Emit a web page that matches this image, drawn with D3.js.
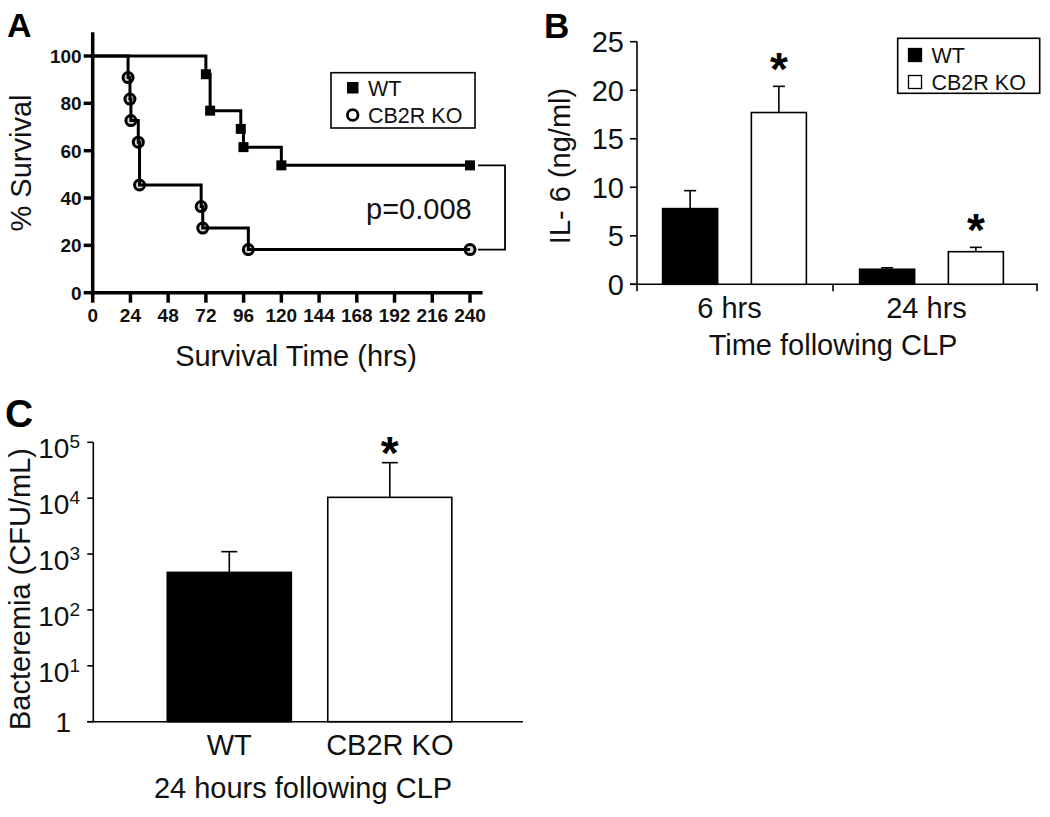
<!DOCTYPE html>
<html><head><meta charset="utf-8">
<script src="https://cdn.jsdelivr.net/npm/d3@7"></script>
<style>
html,body{margin:0;padding:0;background:#fff;}
svg{display:block;font-family:"Liberation Sans",Arial,Helvetica,sans-serif;}
</style></head>
<body>
<svg id="chart" width="1050" height="817"></svg>
<script>
// ---------- Panel A data (Kaplan-Meier survival) ----------
const survTicksX = [0,24,48,72,96,120,144,168,192,216,240];
const survTicksY = [0,20,40,60,80,100];
const wtTimes = [0,72,74.7,94.2,95.9,120,240];
const wtSurv  = [100,92.3,76.9,69.2,61.5,53.8,53.8];
const koTimes = [0,22.5,23.7,24.3,29,29.8,69,70,99,240];
const koSurv  = [100,90.9,81.8,72.7,63.6,45.5,36.4,27.3,18.2,18.2];
const seriesNames = ["WT","CB2R KO"];
const pText = "p=0.008";

// ---------- Panel B data (IL-6) ----------
const il6Groups = ["6 hrs","24 hrs"];
const il6Ticks = [0,5,10,15,20,25];
const il6WT = [7.8,1.55];
const il6WTerr = [1.85,0.15];
const il6KO = [17.7,3.36];
const il6KOerr = [2.7,0.45];
const il6Sig = [true,true];

// ---------- Panel C data (Bacteremia) ----------
const bactCats = ["WT","CB2R KO"];
const bactVals = [470,10350];
const bactErrTop = [1104,43200];
const bactTicks = [1,10,100,1000,10000,100000];
const bactSig = [false,true];

const svg = d3.select("#chart");
const FONT = 29;

function panelLabel(txt,x,y,size){
  svg.append("text").attr("x",x).attr("y",y).attr("font-size",size)
    .attr("font-weight","bold").attr("fill","#000").text(txt);
}

// ================= PANEL A =================
(function(){
  const g = svg.append("g");
  const x = d3.scaleLinear().domain([0,240]).range([92.7,470]);
  const y = d3.scaleLinear().domain([0,100]).range([292.7,56]);
  const sw = 3;
  const asw = 3.5;
  g.append("line").attr("x1",x(0)).attr("x2",x(0)).attr("y1",y(0)+asw/2).attr("y2",y(110))
    .attr("stroke","#000").attr("stroke-width",asw);
  g.append("line").attr("x1",x(0)).attr("x2",x(248)).attr("y1",y(0)).attr("y2",y(0))
    .attr("stroke","#000").attr("stroke-width",asw);
  g.selectAll(".ty").data(survTicksY).join("line")
    .attr("x1",x(0)-9).attr("x2",x(0)).attr("y1",d=>y(d)).attr("y2",d=>y(d))
    .attr("stroke","#000").attr("stroke-width",asw);
  g.selectAll(".tyl").data(survTicksY).join("text")
    .attr("x",x(0)-11).attr("y",d=>y(d)).attr("dy","0.36em").attr("text-anchor","end")
    .attr("font-size",19).attr("font-weight","bold").attr("fill","#111").text(d=>d);
  g.selectAll(".tx").data(survTicksX).join("line")
    .attr("x1",d=>x(d)).attr("x2",d=>x(d)).attr("y1",y(0)).attr("y2",y(0)+10)
    .attr("stroke","#000").attr("stroke-width",asw);
  g.selectAll(".txl").data(survTicksX).join("text")
    .attr("x",d=>x(d)).attr("y",y(0)+29).attr("text-anchor","middle")
    .attr("font-size",19).attr("font-weight","bold").attr("fill","#111").text(d=>d);
  g.append("text").attr("x",296).attr("y",366).attr("text-anchor","middle")
    .attr("font-size",FONT).attr("fill","#111").text("Survival Time (hrs)");
  g.append("text").attr("transform","translate(31,163) rotate(-90)").attr("text-anchor","middle")
    .attr("font-size",FONT).attr("fill","#111").text("% Survival");

  const wt = wtTimes.map((t,i)=>({t,s:wtSurv[i]}));
  const ko = koTimes.map((t,i)=>({t,s:koSurv[i]}));
  const line = d3.line().x(d=>x(d.t)).y(d=>y(d.s)).curve(d3.curveStepAfter);

  g.selectAll(".kom").data(ko.slice(1)).join("circle")
    .attr("cx",d=>x(d.t)).attr("cy",d=>y(d.s)).attr("r",5)
    .attr("fill","#d8d8d8").attr("stroke","#000").attr("stroke-width",3);
  g.append("path").attr("d",line(ko)).attr("fill","none").attr("stroke","#000").attr("stroke-width",sw);
  g.append("path").attr("d",line(wt)).attr("fill","none").attr("stroke","#000").attr("stroke-width",sw);
  g.selectAll(".wtm").data(wt.slice(1)).join("rect")
    .attr("x",d=>x(d.t)-5).attr("y",d=>y(d.s)-5).attr("width",10).attr("height",10)
    .attr("fill","#000");

  const yW = y(wtSurv[wtSurv.length-1]), yK = y(koSurv[koSurv.length-1]);
  const xb0 = x(240)+8, xb1 = x(240)+35;
  g.append("path").attr("d",`M${xb0},${yW}H${xb1}V${yK}H${xb0}`)
    .attr("fill","none").attr("stroke","#000").attr("stroke-width",1.8);
  g.append("text").attr("x",366).attr("y",219).attr("font-size",FONT).attr("fill","#111").text(pText);

  g.append("rect").attr("x",331).attr("y",72.7).attr("width",144).attr("height",55.3)
    .attr("fill","#fff").attr("stroke","#000").attr("stroke-width",1.6);
  g.append("rect").attr("x",347).attr("y",82).attr("width",11.5).attr("height",11.5).attr("fill","#000");
  g.append("circle").attr("cx",352.7).attr("cy",115).attr("r",5.3)
    .attr("fill","#fff").attr("stroke","#000").attr("stroke-width",2.8);
  g.selectAll(".lt").data(seriesNames).join("text")
    .attr("x",368).attr("y",(d,i)=>88+i*27).attr("dy","0.36em")
    .attr("font-size",21.5).attr("fill","#111").text(d=>d);
})();
panelLabel("A",7,37,34);

// ================= PANEL B =================
(function(){
  const g = svg.append("g");
  const y = d3.scaleLinear().domain([0,25]).range([284.3,41.7]);
  const x0 = d3.scaleBand().domain(il6Groups).range([636,1030]);
  const x1 = d3.scaleBand().domain(seriesNames).range([0,x0.bandwidth()]).paddingInner(0.38).paddingOuter(0.3);
  const sw = 1.6;
  const ax = 637;
  g.append("line").attr("x1",ax).attr("x2",ax).attr("y1",y(0)).attr("y2",y(25))
    .attr("stroke","#000").attr("stroke-width",sw);
  g.append("line").attr("x1",ax-7).attr("x2",1038).attr("y1",y(0)).attr("y2",y(0))
    .attr("stroke","#000").attr("stroke-width",sw);
  g.selectAll(".ty").data(il6Ticks).join("line")
    .attr("x1",ax-7).attr("x2",ax).attr("y1",d=>y(d)).attr("y2",d=>y(d))
    .attr("stroke","#000").attr("stroke-width",sw);
  g.selectAll(".tyl").data(il6Ticks).join("text")
    .attr("x",ax-13).attr("y",d=>y(d)).attr("dy","0.36em").attr("text-anchor","end")
    .attr("font-size",FONT).attr("fill","#111").text(d=>d);
  const bnd = [ax, x0("24 hrs"), 1037];
  g.selectAll(".tx").data(bnd).join("line")
    .attr("x1",d=>d).attr("x2",d=>d).attr("y1",y(0)).attr("y2",y(0)+7)
    .attr("stroke","#000").attr("stroke-width",sw);
  g.selectAll(".txl").data(il6Groups).join("text")
    .attr("x",d=>x0(d)+x0.bandwidth()/2-5).attr("y",318).attr("text-anchor","middle")
    .attr("font-size",FONT).attr("fill","#111").text(d=>d);
  g.append("text").attr("x",833).attr("y",355).attr("text-anchor","middle")
    .attr("font-size",FONT).attr("fill","#111").text("Time following CLP");
  g.append("text").attr("transform","translate(570,166) rotate(-90)").attr("text-anchor","middle")
    .attr("font-size",FONT).attr("fill","#111").text("IL- 6 (ng/ml)");

  const data = [];
  il6Groups.forEach((grp,i)=>{
    data.push({grp,s:"WT",v:il6WT[i],e:il6WTerr[i],fill:"#000",sig:false});
    data.push({grp,s:"CB2R KO",v:il6KO[i],e:il6KOerr[i],fill:"#fff",sig:il6Sig[i]});
  });
  const bx = d=>x0(d.grp)+x1(d.s);
  g.selectAll(".eb").data(data).join("line")
    .attr("x1",d=>bx(d)+x1.bandwidth()/2).attr("x2",d=>bx(d)+x1.bandwidth()/2)
    .attr("y1",d=>y(d.v)).attr("y2",d=>y(d.v+d.e)).attr("stroke","#000").attr("stroke-width",sw);
  g.selectAll(".ec").data(data).join("line")
    .attr("x1",d=>bx(d)+x1.bandwidth()/2-6).attr("x2",d=>bx(d)+x1.bandwidth()/2+6)
    .attr("y1",d=>y(d.v+d.e)).attr("y2",d=>y(d.v+d.e)).attr("stroke","#000").attr("stroke-width",sw);
  g.selectAll(".bar").data(data).join("rect")
    .attr("x",d=>bx(d)).attr("y",d=>y(d.v)).attr("width",x1.bandwidth()).attr("height",d=>y(0)-y(d.v))
    .attr("fill",d=>d.fill).attr("stroke","#000").attr("stroke-width",sw);
  g.selectAll(".star").data(data.filter(d=>d.sig)).join("text")
    .attr("x",d=>bx(d)+x1.bandwidth()/2).attr("y",d=>y(d.v+d.e)-1)
    .attr("text-anchor","middle").attr("font-size",46).attr("font-weight","bold").attr("fill","#000").text("*");

  g.append("rect").attr("x",897.7).attr("y",38.3).attr("width",142).attr("height",55)
    .attr("fill","#fff").attr("stroke","#000").attr("stroke-width",1.6);
  g.selectAll(".lsw").data(seriesNames).join("rect")
    .attr("x",908.5).attr("y",(d,i)=>48.5+i*27).attr("width",13).attr("height",13)
    .attr("fill",(d,i)=>i===0?"#000":"#fff").attr("stroke","#000").attr("stroke-width",1.3);
  g.selectAll(".lt").data(seriesNames).join("text")
    .attr("x",931.5).attr("y",(d,i)=>55+i*27).attr("dy","0.36em")
    .attr("font-size",21.5).attr("fill","#111").text(d=>d);
})();
panelLabel("B",544,38,35);

// ================= PANEL C =================
(function(){
  const g = svg.append("g");
  const y = d3.scaleLog().domain([1,1e5]).range([721.7,442.3]);
  const x = d3.scaleBand().domain(bactCats).range([93.3,525.8]).paddingInner(0.227).paddingOuter(0.461);
  const sw = 1.6;
  const ax = 93.3;
  g.append("line").attr("x1",ax).attr("x2",ax).attr("y1",y(1)).attr("y2",y(1e5))
    .attr("stroke","#000").attr("stroke-width",sw);
  g.append("line").attr("x1",ax-6).attr("x2",523).attr("y1",y(1)).attr("y2",y(1))
    .attr("stroke","#000").attr("stroke-width",sw);
  g.selectAll(".ty").data(bactTicks).join("line")
    .attr("x1",ax-6).attr("x2",ax).attr("y1",d=>y(d)).attr("y2",d=>y(d))
    .attr("stroke","#000").attr("stroke-width",sw);
  const lbl = g.selectAll(".tyl").data(bactTicks).join("text")
    .attr("text-anchor","end").attr("fill","#111").attr("font-size",28);
  lbl.each(function(d){
    const t = d3.select(this);
    const e = Math.round(Math.log10(d));
    if(e===0){
      t.attr("x",71).attr("y",y(d)).attr("dy","0.36em").text("1");
    } else {
      t.attr("x",80).attr("y",y(d)+16);
      t.append("tspan").text("10");
      t.append("tspan").attr("font-size",19).attr("dy",-10).text(e);
    }
  });
  g.selectAll(".txl").data(bactCats).join("text")
    .attr("x",d=>x(d)+x.bandwidth()/2).attr("y",755).attr("text-anchor","middle")
    .attr("font-size",FONT).attr("fill","#111").text(d=>d);
  g.append("text").attr("x",303).attr("y",798).attr("text-anchor","middle")
    .attr("font-size",FONT).attr("fill","#111").text("24 hours following CLP");
  g.append("text").attr("transform","translate(30,589) rotate(-90)").attr("text-anchor","middle")
    .attr("font-size",FONT).attr("fill","#111").text("Bacteremia (CFU/mL)");

  const data = bactCats.map((c,i)=>({c,v:bactVals[i],t:bactErrTop[i],fill:i===0?"#000":"#fff",sig:bactSig[i]}));
  const cx = d=>x(d.c)+x.bandwidth()/2;
  g.selectAll(".eb").data(data).join("line")
    .attr("x1",cx).attr("x2",cx).attr("y1",d=>y(d.v)).attr("y2",d=>y(d.t))
    .attr("stroke","#000").attr("stroke-width",sw);
  g.selectAll(".ec").data(data).join("line")
    .attr("x1",d=>cx(d)-8).attr("x2",d=>cx(d)+8).attr("y1",d=>y(d.t)).attr("y2",d=>y(d.t))
    .attr("stroke","#000").attr("stroke-width",sw);
  g.selectAll(".bar").data(data).join("rect")
    .attr("x",d=>x(d.c)).attr("y",d=>y(d.v)).attr("width",x.bandwidth()).attr("height",d=>y(1)-y(d.v))
    .attr("fill",d=>d.fill).attr("stroke","#000").attr("stroke-width",sw);
  g.selectAll(".star").data(data.filter(d=>d.sig)).join("text")
    .attr("x",cx).attr("y",d=>y(d.t)+6)
    .attr("text-anchor","middle").attr("font-size",46).attr("font-weight","bold").attr("fill","#000").text("*");
})();
panelLabel("C",5,427,39);
</script>
</body></html>
